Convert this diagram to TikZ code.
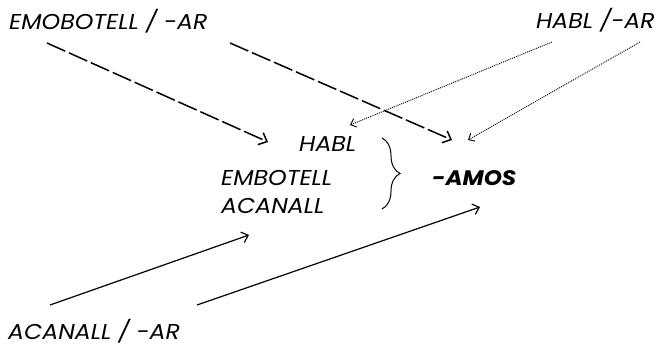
\documentclass[tikz,border=0pt]{standalone}
\usepackage{fontspec}
\setmainfont{Poppins}[FakeStretch=1.1]
\usepackage{tikz}
\usetikzlibrary{arrows.meta, positioning, decorations.pathreplacing}

\begin{document}
\begin{tikzpicture}[x=1pt, y=-1pt]

\tikzstyle{word} = [inner sep=0pt, anchor=west, font=\fontsize{21.5}{24}\selectfont\itshape]
\tikzstyle{suffix} = [inner sep=0pt, anchor=west, font=\fontsize{21}{24}\selectfont\bfseries\itshape]
\tikzstyle{dasharrow} = [line width=1.5pt, dash pattern=on 20pt off 4pt, -{Straight Barb[length=7pt, width=13pt]}]
\tikzstyle{dotarrow} = [line width=0.9pt, dash pattern=on 1pt off 1pt, -{Straight Barb[length=5pt, width=9pt]}]
\tikzstyle{solidarrow} = [line width=1.2pt, -{Straight Barb[length=6pt, width=11pt]}]

\useasboundingbox (0,0) rectangle (658,345);

% Make nodes
\node (embsrc) [word] at (9, 21) {EMOBOTELL / -AR};
\node (hablsrc) [word, anchor=east] at (655, 20) {HABL /-AR};
\node (acansrc) [word, anchor=base west] at (8, 339) {ACANALL / -AR};

\node (habl) [word] at (299, 144) {HABL};
\node (embot) [word] at (221, 178) {EMBOTELL};
\node (acan) [word] at (221, 206) {ACANALL};
\node (amos) [suffix] at (432, 178) {-AMOS};

% Brace
\draw[line width=1pt, decorate, decoration={brace, amplitude=18pt}] (382, 138) -- (382, 209);

% Arrow ends
\coordinate (e1s) at (47, 43);
\coordinate (e1t) at (268, 142);
\coordinate (e2s) at (230, 43);
\coordinate (e2t) at (452, 140);
\coordinate (h1s) at (552, 42);
\coordinate (h1t) at (350, 125);
\coordinate (h2s) at (640, 42);
\coordinate (h2t) at (468, 140);
\coordinate (a1s) at (50, 305);
\coordinate (a1t) at (249, 235);
\coordinate (a2s) at (197, 305);
\coordinate (a2t) at (480, 207);

% Connect nodes
\draw[dasharrow] (e1s) -- (e1t);
\draw[dasharrow] (e2s) -- (e2t);

\draw[dotarrow] (h1s) -- (h1t);
\draw[dotarrow] (h2s) -- (h2t);

\draw[solidarrow] (a1s) -- (a1t);
\draw[solidarrow] (a2s) -- (a2t);

\end{tikzpicture}
\end{document}
